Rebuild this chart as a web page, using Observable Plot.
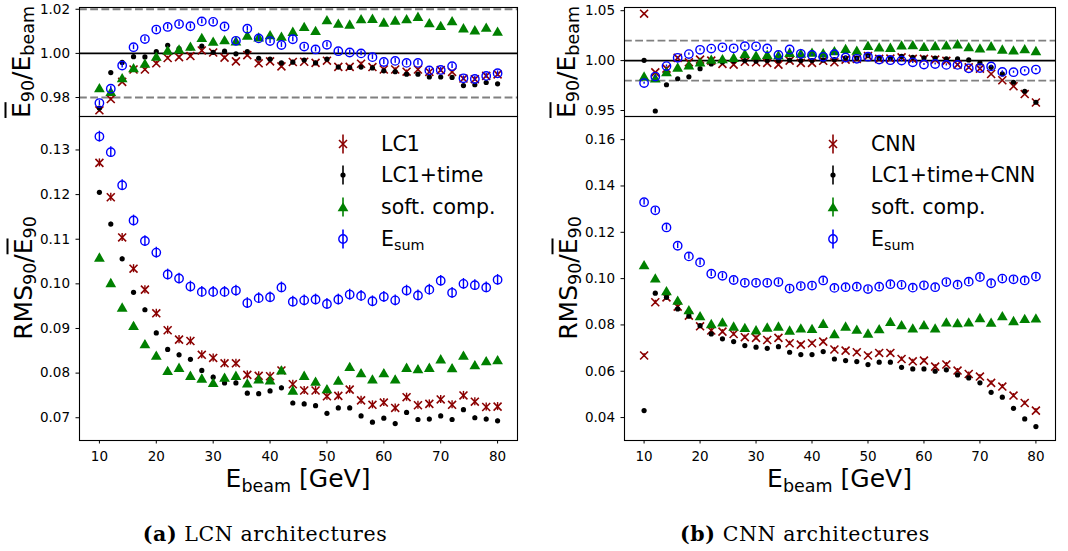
<!DOCTYPE html>
<html>
<head>
<meta charset="utf-8">
<script src="https://cdn.jsdelivr.net/npm/d3@7"></script>
<script src="https://cdn.jsdelivr.net/npm/@observablehq/plot@0.6"></script>
<style>
  html, body { margin: 0; padding: 0; background: #fff; }
  #fig { position: relative; width: 1068px; height: 551px; overflow: hidden; background: #fff;
         font-family: "DejaVu Sans", sans-serif; color: #000; }
  .layer { position: absolute; top: 0; }
  .txt { position: absolute; white-space: nowrap; line-height: 1; }
  .ylab { font-size: 25px; transform: translate(-50%, -50%) rotate(-90deg); }
  .xlab { font-size: 25px; transform: translateX(-50%); }
  .sub { font-size: 0.7em; vertical-align: -0.28em; line-height: 0; }
  .ov { text-decoration: overline; text-decoration-thickness: 1.6px; }
  .leg { font-size: 20.5px; }
  .cap { font-family: "DejaVu Serif", serif; font-size: 20.5px; letter-spacing: 0.6px; transform: translateX(-50%); }
</style>
</head>
<body>
<div id="fig"></div>
<script>
// Beam energies (GeV)
const energies = [10, 12, 14, 16, 18, 20, 22, 24, 26, 28, 30, 32, 34, 36, 38, 40, 42, 44,
                  46, 48, 50, 52, 54, 56, 58, 60, 62, 64, 66, 68, 70, 72, 74, 76, 78, 80];

// Mean response  E90 / Ebeam
const lc1Ratio = [0.9742,0.9793,0.9871,0.9927,0.9927,0.9955,0.9979,0.9983,0.9988,1.0013,1.0004,0.9981,
                  0.9964,0.9992,0.9955,0.9964,0.9941,0.9961,0.9962,0.9957,0.9967,0.9939,0.9939,0.9953,
                  0.9938,0.9927,0.9927,0.9917,0.9927,0.9916,0.9924,0.9916,0.9886,0.9883,0.9898,0.9905];
const lc1TimeRatio = [0.9752,0.9913,0.9959,0.9985,0.9984,1.0008,1.0037,1.0022,1.0025,1.0033,1.0005,1.0010,
                      0.9998,1.0008,0.9978,0.9974,0.9957,0.9960,0.9970,0.9957,0.9974,0.9938,0.9936,0.9938,
                      0.9934,0.9921,0.9917,0.9906,0.9906,0.9893,0.9893,0.9891,0.9854,0.9858,0.9868,0.9862];
const cnnRatio = [1.0470,0.9882,0.9920,1.0027,0.9983,1.0010,1.0000,0.9967,0.9960,0.9988,0.9983,0.9977,
                  0.9960,1.0000,0.9977,0.9977,0.9998,0.9983,1.0010,1.0017,1.0045,1.0017,1.0020,1.0033,
                  1.0017,1.0017,1.0010,0.9997,0.9960,0.9933,0.9920,0.9866,0.9803,0.9743,0.9665,0.9580];
const lc1TimeCnnRatio = [1.0003,0.9495,0.9758,0.9818,0.9837,0.9919,0.9966,0.9985,0.9995,1.0000,0.9995,1.0000,
                         1.0000,1.0005,1.0000,1.0000,1.0005,1.0010,1.0027,1.0025,1.0050,1.0023,1.0027,1.0043,
                         1.0033,1.0027,1.0025,1.0017,1.0017,1.0007,0.9977,0.9933,0.9867,0.9783,0.9693,0.9583];
const softRatio = [0.9845,0.9828,0.9890,0.9935,0.9956,0.9987,1.0015,1.0020,1.0033,1.0072,1.0055,1.0062,
                   1.0057,1.0083,1.0075,1.0085,1.0078,1.0100,1.0122,1.0104,1.0153,1.0137,1.0133,1.0157,
                   1.0159,1.0142,1.0151,1.0157,1.0168,1.0139,1.0127,1.0148,1.0116,1.0107,1.0119,1.0101];
const esumRatio = [0.9775,0.9840,0.9945,1.0028,1.0065,1.0108,1.0120,1.0133,1.0123,1.0145,1.0143,1.0122,
                   1.0057,1.0112,1.0068,1.0056,1.0038,1.0064,1.0031,1.0018,1.0039,1.0010,1.0004,1.0000,
                   0.9983,0.9961,0.9966,0.9957,0.9957,0.9923,0.9925,0.9942,0.9887,0.9884,0.9898,0.9910];

// Relative resolution  RMS90 / E90
const lc1Rms = [0.1271,0.1194,0.1104,0.1034,0.0987,0.0934,0.0896,0.0875,0.0872,0.0841,0.0834,0.0822,
                0.0822,0.0796,0.0794,0.0793,0.0806,0.0775,0.0761,0.0761,0.0748,0.0749,0.0763,0.0739,
                0.0729,0.0734,0.0722,0.0746,0.0728,0.0731,0.0741,0.0729,0.0750,0.0736,0.0724,0.0725];
const lc1TimeRms = [0.1205,0.1134,0.1056,0.0981,0.0942,0.0890,0.0853,0.0841,0.0831,0.0806,0.0791,0.0778,
                    0.0778,0.0755,0.0754,0.0760,0.0767,0.0733,0.0731,0.0727,0.0710,0.0722,0.0722,0.0704,
                    0.0690,0.0699,0.0687,0.0712,0.0696,0.0697,0.0704,0.0696,0.0718,0.0700,0.0697,0.0693];
const cnnRms = [0.0668,0.0898,0.0919,0.0879,0.0840,0.0794,0.0776,0.0771,0.0761,0.0747,0.0744,0.0735,
                0.0744,0.0721,0.0715,0.0721,0.0728,0.0694,0.0689,0.0682,0.0668,0.0679,0.0679,0.0653,
                0.0643,0.0646,0.0620,0.0629,0.0603,0.0588,0.0577,0.0550,0.0534,0.0495,0.0463,0.0430];
const lc1TimeCnnRms = [0.0430,0.0937,0.0919,0.0869,0.0838,0.0797,0.0761,0.0740,0.0728,0.0711,0.0704,0.0699,
                       0.0706,0.0682,0.0672,0.0672,0.0685,0.0653,0.0646,0.0642,0.0629,0.0639,0.0639,0.0617,
                       0.0610,0.0610,0.0600,0.0606,0.0584,0.0571,0.0550,0.0509,0.0488,0.0440,0.0394,0.0361];
const softRms = [0.1060,0.1003,0.0948,0.0907,0.0866,0.0840,0.0806,0.0813,0.0795,0.0789,0.0779,0.0791,
                 0.0795,0.0778,0.0787,0.0785,0.0807,0.0762,0.0795,0.0782,0.0765,0.0784,0.0815,0.0801,
                 0.0787,0.0801,0.0787,0.0813,0.0810,0.0813,0.0832,0.0812,0.0840,0.0819,0.0828,0.0830];
const esumRms = [0.1330,0.1295,0.1221,0.1142,0.1096,0.1070,0.1021,0.1012,0.0994,0.0982,0.0982,0.0982,
                 0.0985,0.0957,0.0968,0.0970,0.0992,0.0960,0.0963,0.0965,0.0955,0.0965,0.0976,0.0973,
                 0.0961,0.0971,0.0963,0.0985,0.0974,0.0987,0.1007,0.0980,0.1000,0.0997,0.0992,0.1009];

// Statistical uncertainty (half-width of the error bars) per series
const ratioErr = { lc1: 0.0008, lc1Time: 0.0005, cnn: 0.0008, lc1TimeCnn: 0.0005, soft: 0.0006, esum: 0.0011 };
const rmsErr   = { lc1: 0.0009, lc1Time: 0.0004, cnn: 0.0009, lc1TimeCnn: 0.0004, soft: 0.0006, esum: 0.0012 };

const xTicks = [10, 20, 30, 40, 50, 60, 70, 80];
const ratioTicksA = [0.98, 1.00, 1.02];
const rmsTicksA = [0.07, 0.08, 0.09, 0.10, 0.11, 0.12, 0.13];
const ratioTicksB = [0.95, 1.00, 1.05];
const rmsTicksB = [0.04, 0.06, 0.08, 0.10, 0.12, 0.14, 0.16];
const bandLines = [0.98, 1.02];

const legendA = ["LC1", "LC1+time", "soft. comp.", "E<span class='sub'>sum</span>"];
const legendB = ["CNN", "LC1+time+CNN", "soft. comp.", "E<span class='sub'>sum</span>"];

const RED = "#8b0000", BLACK = "#000000", GREEN = "#008000", BLUE = "#0000ff";

function rowsOf(values) { return energies.map((e, i) => ({ e, v: values[i] })); }

function seriesMarks(values, kind, color, err) {
  const data = rowsOf(values);
  const bars = Plot.ruleX(data, { x: "e", y1: d => d.v - err, y2: d => d.v + err, stroke: color, strokeWidth: 1.4 });
  let dots;
  if (kind === "times") dots = Plot.dot(data, { x: "e", y: "v", symbol: "times", r: 3.7, stroke: color, strokeWidth: 1.6 });
  else if (kind === "point") dots = Plot.dot(data, { x: "e", y: "v", r: 2.6, fill: color, stroke: "none" });
  else if (kind === "triangle") dots = Plot.dot(data, { x: "e", y: "v", symbol: "triangle", r: 4.0, dy: 1.5, fill: color, stroke: "none" });
  else dots = Plot.dot(data, { x: "e", y: "v", r: 4.2, fill: "none", stroke: color, strokeWidth: 1.4 });
  return [bars, dots];
}

function subplot({ ml, mr, mt, mb, height, yDomain, yTicks, series, refLines, xAxis }) {
  return Plot.plot({
    width: 534, height,
    marginLeft: ml, marginRight: mr, marginTop: mt, marginBottom: mb,
    style: { fontFamily: "DejaVu Sans", fontSize: "13.5px", background: "transparent", color: "black", overflow: "visible" },
    x: { domain: [6.5, 83.5], axis: null },
    y: { domain: yDomain, axis: null },
    marks: [
      ...(refLines ? [
        Plot.ruleY(bandLines, { stroke: "#808080", strokeWidth: 1.8, strokeDasharray: "7.8,3.4" }),
        Plot.ruleY([1], { stroke: "black", strokeWidth: 1.8 })
      ] : []),
      ...series.flatMap(s => seriesMarks(s.values, s.kind, s.color, s.err)),
      Plot.frame({ stroke: "black", strokeWidth: 1.1 }),
      Plot.axisY({ ticks: yTicks, tickFormat: d3.format(".2f"), tickSize: 3.5, tickPadding: 6, label: null }),
      ...(xAxis ? [Plot.axisX({ ticks: xTicks, tickFormat: d => String(d), tickSize: 3.5, tickPadding: 7, label: null })] : [])
    ]
  });
}

const panels = [
  {
    offset: 0, ml: 79, mr: 17,
    ratioDomain: [0.9714, 1.0208], ratioTicks: ratioTicksA,
    rmsDomain: [0.0649, 0.1375], rmsTicks: rmsTicksA,
    ratio: [
      { values: lc1Ratio, kind: "times", color: RED, err: ratioErr.lc1 },
      { values: lc1TimeRatio, kind: "point", color: BLACK, err: ratioErr.lc1Time },
      { values: softRatio, kind: "triangle", color: GREEN, err: ratioErr.soft },
      { values: esumRatio, kind: "circle", color: BLUE, err: ratioErr.esum }
    ],
    rms: [
      { values: lc1Rms, kind: "times", color: RED, err: rmsErr.lc1 },
      { values: lc1TimeRms, kind: "point", color: BLACK, err: rmsErr.lc1Time },
      { values: softRms, kind: "triangle", color: GREEN, err: rmsErr.soft },
      { values: esumRms, kind: "circle", color: BLUE, err: rmsErr.esum }
    ],
    legend: legendA, legendX: 343, legendTextX: 381,
    caption: "<b>(a)</b> LCN architectures", captionX: 265
  },
  {
    offset: 534, ml: 90, mr: 13,
    ratioDomain: [0.944, 1.0532], ratioTicks: ratioTicksB,
    rmsDomain: [0.0301, 0.1700], rmsTicks: rmsTicksB,
    ratio: [
      { values: cnnRatio, kind: "times", color: RED, err: ratioErr.cnn },
      { values: lc1TimeCnnRatio, kind: "point", color: BLACK, err: ratioErr.lc1TimeCnn },
      { values: softRatio, kind: "triangle", color: GREEN, err: ratioErr.soft },
      { values: esumRatio, kind: "circle", color: BLUE, err: ratioErr.esum }
    ],
    rms: [
      { values: cnnRms, kind: "times", color: RED, err: rmsErr.cnn },
      { values: lc1TimeCnnRms, kind: "point", color: BLACK, err: rmsErr.lc1TimeCnn },
      { values: softRms, kind: "triangle", color: GREEN, err: rmsErr.soft },
      { values: esumRms, kind: "circle", color: BLUE, err: rmsErr.esum }
    ],
    legend: legendB, legendX: 833, legendTextX: 871,
    caption: "<b>(b)</b> CNN architectures", captionX: 805
  }
];

const fig = document.getElementById("fig");

function addText(cls, html, left, top) {
  const el = document.createElement("div");
  el.className = "txt " + cls;
  el.innerHTML = html;
  el.style.left = left + "px";
  el.style.top = top + "px";
  fig.appendChild(el);
  return el;
}

function glyph(kind, color) {
  let shape;
  if (kind === "times") shape = `<path d="M-4,-4L4,4M-4,4L4,-4" stroke="${color}" stroke-width="1.6" fill="none"/>`;
  else if (kind === "point") shape = `<circle r="2.6" fill="${color}"/>`;
  else if (kind === "triangle") shape = `<path d="M0,-4.8L5.4,4.3L-5.4,4.3Z" fill="${color}"/>`;
  else shape = `<circle r="4.2" fill="none" stroke="${color}" stroke-width="1.4"/>`;
  return `<svg width="20" height="22" viewBox="-10 -11 20 22" style="display:block">` +
         `<line x1="0" x2="0" y1="-9.5" y2="9.5" stroke="${color}" stroke-width="1.6"/>${shape}</svg>`;
}

const legendRows = [143.5, 175.2, 206.9, 238.6];

for (const p of panels) {
  const top = subplot({ ml: p.ml, mr: p.mr, mt: 7, mb: 4, height: 120,
    yDomain: p.ratioDomain, yTicks: p.ratioTicks, series: p.ratio, refLines: true, xAxis: false });
  const bottom = subplot({ ml: p.ml, mr: p.mr, mt: 116, mb: 30, height: 470,
    yDomain: p.rmsDomain, yTicks: p.rmsTicks, series: p.rms, refLines: false, xAxis: true });
  for (const svg of [bottom, top]) {
    svg.classList.add("layer");
    svg.style.left = p.offset + "px";
    fig.appendChild(svg);
  }

  const frameCx = p.offset + p.ml + (534 - p.ml - p.mr) / 2;

  // axis titles
  addText("ylab", "<span class='ov'>E</span><span class='sub'>90</span>/E<span class='sub'>beam</span>", p.offset + p.ml - 58, 62);
  addText("ylab", "RMS<span class='sub'>90</span>/<span class='ov'>E</span><span class='sub'>90</span>", p.offset + p.ml - 56, 278);
  addText("xlab", "E<span class='sub'>beam</span> [GeV]", frameCx, 466);

  // legend
  p.legend.forEach((label, i) => {
    const s = p.rms[i];
    addText("", glyph(s.kind, s.color), p.legendX - 10, legendRows[i] - 11);
    addText("leg", label, p.legendTextX, legendRows[i] - 9.8);
  });

  // sub-figure caption
  addText("cap", p.caption, p.captionX, 524);
}
</script>
</body>
</html>
